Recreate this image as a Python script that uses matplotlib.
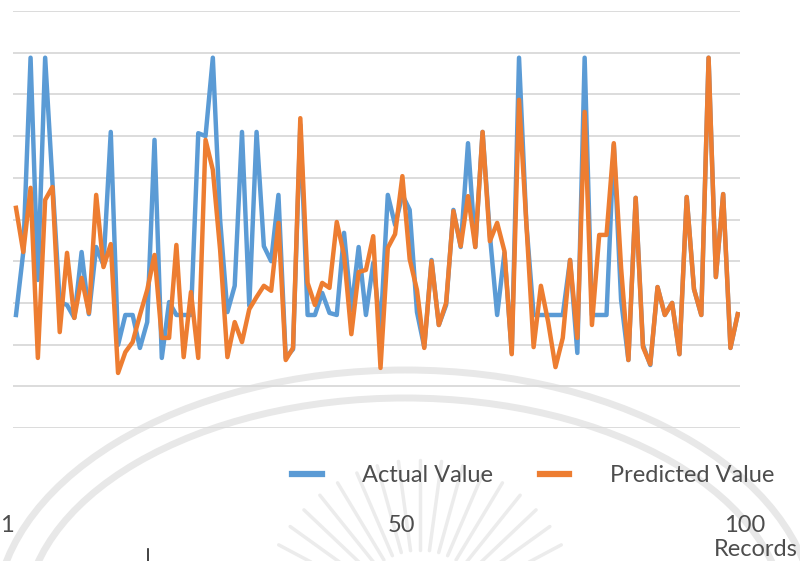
import numpy as np
import matplotlib
matplotlib.use("Agg")
import matplotlib.pyplot as plt
from matplotlib.patches import Ellipse

# Records 1..100
records = list(range(1, 101))

actual_value = [
    2.71, 4.22, 8.88, 3.55, 8.88, 5.90, 3.02, 2.95, 2.64, 4.22,
    2.73, 4.34, 3.91, 7.10, 1.99, 2.71, 2.71, 1.92, 2.54, 6.91,
    1.68, 3.02, 2.71, 2.71, 2.71, 7.07, 7.00, 8.88, 4.99, 2.78,
    3.41, 7.10, 2.93, 7.10, 4.36, 4.00, 5.59, 1.68, 1.89, 7.27,
    2.71, 2.71, 3.24, 2.76, 2.71, 4.68, 2.83, 4.34, 2.71, 3.96,
    2.35, 5.59, 4.87, 5.59, 5.23, 2.78, 1.94, 4.03, 2.47, 2.95,
    5.23, 4.34, 6.83, 4.34, 7.10, 4.63, 2.71, 4.20, 1.80, 8.88,
    4.92, 2.71, 2.71, 2.71, 2.71, 2.71, 4.03, 1.80, 8.88, 2.71,
    2.71, 2.71, 6.79, 3.07, 1.63, 5.52, 1.99, 1.51, 3.38, 2.71,
    3.00, 1.77, 5.54, 3.33, 2.71, 8.88, 3.62, 5.61, 1.92, 2.73,
]

predicted_value = [
    5.28, 4.22, 5.76, 1.68, 5.47, 5.78, 2.30, 4.20, 2.64, 3.60,
    2.76, 5.59, 3.86, 4.41, 1.32, 1.82, 2.06, 2.71, 3.31, 4.15,
    2.16, 2.16, 4.39, 1.70, 3.26, 1.68, 6.91, 6.19, 4.27, 1.70,
    2.54, 2.06, 2.85, 3.14, 3.41, 3.29, 4.92, 1.63, 1.92, 7.43,
    3.48, 2.95, 3.48, 3.36, 4.94, 4.15, 2.25, 3.74, 3.79, 4.60,
    1.44, 4.32, 4.65, 6.04, 4.05, 3.31, 1.92, 4.00, 2.47, 3.00,
    5.20, 4.36, 5.56, 4.34, 7.10, 4.48, 4.92, 4.24, 1.77, 7.87,
    4.92, 1.94, 3.41, 2.54, 1.46, 2.16, 4.03, 2.16, 7.58, 2.47,
    4.63, 4.63, 6.83, 3.84, 1.63, 5.52, 1.94, 1.53, 3.38, 2.71,
    3.00, 1.77, 5.54, 3.33, 2.71, 8.88, 3.62, 5.61, 1.92, 2.73,
]

series_labels = ["Actual Value", "Predicted Value"]
tick_labels = ["1", "50", "100"]
axis_title = "Records"

BLUE = "#5B9BD5"
ORANGE = "#ED7D31"
GRID = "#D9D9D9"
TEXT = "#4D4D4D"
FONT = ["Lato", "DejaVu Sans"]

W, H = 800, 561
fig = plt.figure(figsize=(W / 100, H / 100), dpi=100)

# faint emblem watermark behind everything (pixel coordinates)
bg = fig.add_axes([0, 0, 1, 1], zorder=0)
bg.set_xlim(0, W)
bg.set_ylim(H, 0)
bg.axis("off")
for a, b in ((410, 250), (380, 222)):
    bg.add_patch(Ellipse((405, 620), 2 * a, 2 * b, fill=False, lw=5, ec="#E8E8E8"))
cx, cy = 420, 620
for ang in np.linspace(28, 152, 17):
    t = np.deg2rad(ang)
    bg.plot([cx + 70 * np.cos(t), cx + 160 * np.cos(t)],
            [cy - 70 * np.sin(t), cy - 160 * np.sin(t)],
            color="#ECECEC", lw=2.5, solid_capstyle="round")
bg.plot([148, 148], [549, 561], color="#222222", lw=1.2)

# main chart area
left, right = 13, 740
top, bottom = 11, 428
ax = fig.add_axes([left / W, 1 - bottom / H, (right - left) / W, (bottom - top) / H],
                  zorder=1)
ax.set_facecolor("none")
ax.set_xlim(0.59, 100.31)
ax.set_ylim(0, 10)
ax.set_yticks(range(0, 11))
ax.set_xticks([])
ax.tick_params(axis="y", length=0, labelleft=False)
ax.grid(axis="y", color=GRID, lw=1.3)
ax.set_axisbelow(True)
for s in ax.spines.values():
    s.set_visible(False)

ax.plot(records, actual_value, color=BLUE, lw=3.2, label=series_labels[0])
ax.plot(records, predicted_value, color=ORANGE, lw=3.2, label=series_labels[1])

FS = 17
leg = ax.legend(loc="center", bbox_to_anchor=(533 / W, 1 - 476 / H),
                bbox_transform=fig.transFigure, ncol=2, frameon=False,
                handlelength=1.25, handletextpad=1.7, columnspacing=2.0,
                prop=dict(family=FONT, weight="normal", size=FS))
for t in leg.get_texts():
    t.set_color(TEXT)
for h in leg.get_lines():
    h.set_linewidth(4.5)

for lbl, px in zip(tick_labels, (7, 401, 745)):
    fig.text(px / W, 1 - 525 / H, lbl, ha="center", va="center",
             color=TEXT, fontsize=FS, family=FONT)
fig.text(756 / W, 1 - 549 / H, axis_title, ha="center", va="center",
         color=TEXT, fontsize=FS, family=FONT)

fig.savefig("out.png", dpi=100)
